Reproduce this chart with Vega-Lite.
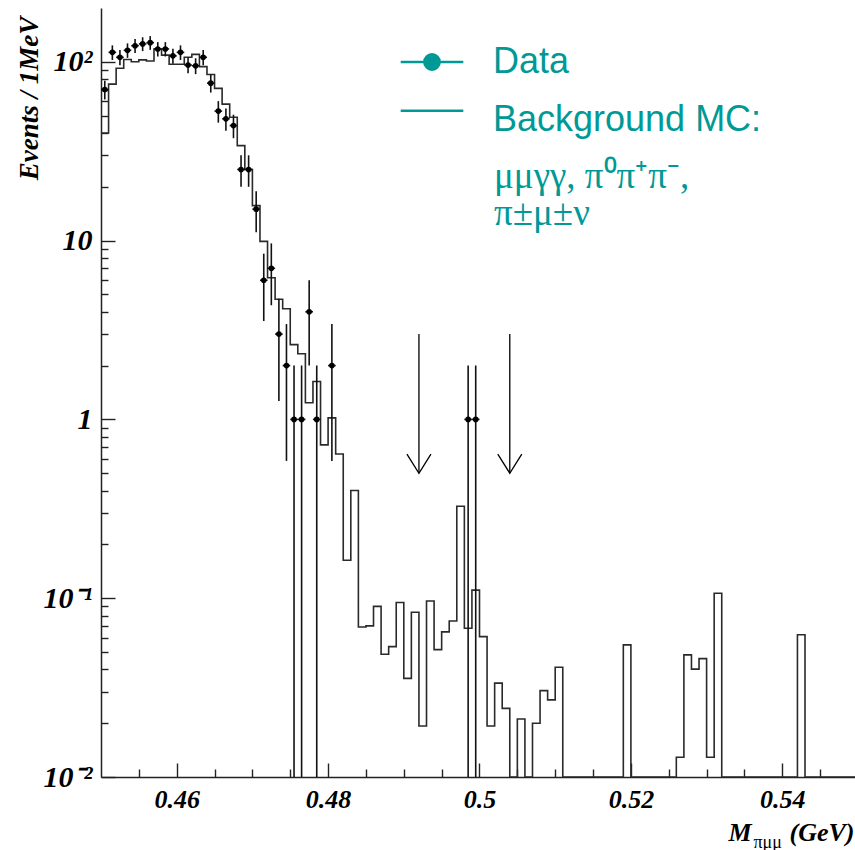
{
  "$schema": "https://vega.github.io/schema/vega-lite/v6.json",
  "width": 757,
  "height": 769,
  "autosize": {"type": "none"},
  "padding": {"left": 101, "top": 8, "right": 0, "bottom": 73},
  "background": "white",
  "config": {
    "view": {"stroke": null},
    "axis": {
      "grid": false,
      "domainColor": "#222222",
      "domainWidth": 1.5,
      "tickColor": "#222222",
      "tickWidth": 1.4,
      "labelFont": "Liberation Serif",
      "labelFontWeight": "bold",
      "labelFontStyle": "italic",
      "labelColor": "#000000",
      "titleFont": "Liberation Serif",
      "titleFontWeight": "bold",
      "titleFontStyle": "italic",
      "titleColor": "#000000"
    }
  },
  "datasets": {
    "mc": [
      {"mass": 0.450, "events": 40},
      {"mass": 0.451, "events": 75},
      {"mass": 0.452, "events": 92},
      {"mass": 0.453, "events": 103},
      {"mass": 0.454, "events": 100},
      {"mass": 0.455, "events": 102.5},
      {"mass": 0.456, "events": 101},
      {"mass": 0.457, "events": 118},
      {"mass": 0.458, "events": 109},
      {"mass": 0.459, "events": 97},
      {"mass": 0.460, "events": 97},
      {"mass": 0.461, "events": 106},
      {"mass": 0.462, "events": 110},
      {"mass": 0.463, "events": 94},
      {"mass": 0.464, "events": 85},
      {"mass": 0.465, "events": 71},
      {"mass": 0.466, "events": 58},
      {"mass": 0.467, "events": 49},
      {"mass": 0.468, "events": 34},
      {"mass": 0.469, "events": 25},
      {"mass": 0.470, "events": 15.7},
      {"mass": 0.471, "events": 9.9},
      {"mass": 0.472, "events": 6.2},
      {"mass": 0.473, "events": 4.7},
      {"mass": 0.474, "events": 4.16},
      {"mass": 0.475, "events": 2.62},
      {"mass": 0.476, "events": 2.33},
      {"mass": 0.477, "events": 1.24},
      {"mass": 0.478, "events": 1.63},
      {"mass": 0.479, "events": 0.72},
      {"mass": 0.480, "events": 1.02},
      {"mass": 0.481, "events": 0.64},
      {"mass": 0.482, "events": 0.163},
      {"mass": 0.483, "events": 0.40},
      {"mass": 0.484, "events": 0.069},
      {"mass": 0.485, "events": 0.070},
      {"mass": 0.486, "events": 0.090},
      {"mass": 0.487, "events": 0.0486},
      {"mass": 0.488, "events": 0.0536},
      {"mass": 0.489, "events": 0.0946},
      {"mass": 0.490, "events": 0.0356},
      {"mass": 0.491, "events": 0.0834},
      {"mass": 0.492, "events": 0.0193},
      {"mass": 0.493, "events": 0.0965},
      {"mass": 0.494, "events": 0.0516},
      {"mass": 0.495, "events": 0.0648},
      {"mass": 0.496, "events": 0.0746},
      {"mass": 0.497, "events": 0.327},
      {"mass": 0.498, "events": 0.0679},
      {"mass": 0.499, "events": 0.111},
      {"mass": 0.500, "events": 0.061},
      {"mass": 0.501, "events": 0.0193},
      {"mass": 0.502, "events": 0.0335},
      {"mass": 0.503, "events": 0.0242},
      {"mass": 0.504, "events": 0},
      {"mass": 0.505, "events": 0.0211},
      {"mass": 0.506, "events": 0},
      {"mass": 0.507, "events": 0.020},
      {"mass": 0.508, "events": 0.0304},
      {"mass": 0.509, "events": 0.027},
      {"mass": 0.510, "events": 0.0411},
      {"mass": 0.511, "events": 0},
      {"mass": 0.512, "events": 0},
      {"mass": 0.513, "events": 0},
      {"mass": 0.514, "events": 0},
      {"mass": 0.515, "events": 0},
      {"mass": 0.516, "events": 0},
      {"mass": 0.517, "events": 0},
      {"mass": 0.518, "events": 0},
      {"mass": 0.519, "events": 0.0548},
      {"mass": 0.520, "events": 0},
      {"mass": 0.521, "events": 0},
      {"mass": 0.522, "events": 0},
      {"mass": 0.523, "events": 0},
      {"mass": 0.524, "events": 0},
      {"mass": 0.525, "events": 0},
      {"mass": 0.526, "events": 0.0129},
      {"mass": 0.527, "events": 0.0482},
      {"mass": 0.528, "events": 0.0401},
      {"mass": 0.529, "events": 0.0459},
      {"mass": 0.530, "events": 0.0129},
      {"mass": 0.531, "events": 0.1065},
      {"mass": 0.532, "events": 0},
      {"mass": 0.533, "events": 0},
      {"mass": 0.534, "events": 0},
      {"mass": 0.535, "events": 0},
      {"mass": 0.536, "events": 0},
      {"mass": 0.537, "events": 0},
      {"mass": 0.538, "events": 0},
      {"mass": 0.539, "events": 0},
      {"mass": 0.540, "events": 0},
      {"mass": 0.541, "events": 0},
      {"mass": 0.542, "events": 0.0625},
      {"mass": 0.543, "events": 0},
      {"mass": 0.544, "events": 0},
      {"mass": 0.545, "events": 0},
      {"mass": 0.546, "events": 0},
      {"mass": 0.547, "events": 0},
      {"mass": 0.548, "events": 0},
      {"mass": 0.549, "events": 0},
      {"mass": 0.550, "events": 0}
    ],
    "pts": [
      {"bin_lo": 0.450, "bin_hi": 0.451, "mass": 0.4505, "events": 70, "err_lo": 61.6, "err_hi": 78.4},
      {"bin_lo": 0.451, "bin_hi": 0.452, "mass": 0.4515, "events": 113, "err_lo": 102.4, "err_hi": 123.6},
      {"bin_lo": 0.452, "bin_hi": 0.453, "mass": 0.4525, "events": 106, "err_lo": 95.7, "err_hi": 116.3},
      {"bin_lo": 0.453, "bin_hi": 0.454, "mass": 0.4535, "events": 116, "err_lo": 105.2, "err_hi": 126.8},
      {"bin_lo": 0.454, "bin_hi": 0.455, "mass": 0.4545, "events": 123, "err_lo": 111.9, "err_hi": 134.1},
      {"bin_lo": 0.455, "bin_hi": 0.456, "mass": 0.4555, "events": 126, "err_lo": 114.8, "err_hi": 137.2},
      {"bin_lo": 0.456, "bin_hi": 0.457, "mass": 0.4565, "events": 128, "err_lo": 116.7, "err_hi": 139.3},
      {"bin_lo": 0.457, "bin_hi": 0.458, "mass": 0.4575, "events": 118, "err_lo": 107.1, "err_hi": 128.9},
      {"bin_lo": 0.458, "bin_hi": 0.459, "mass": 0.4585, "events": 118, "err_lo": 107.1, "err_hi": 128.9},
      {"bin_lo": 0.459, "bin_hi": 0.460, "mass": 0.4595, "events": 108, "err_lo": 97.6, "err_hi": 118.4},
      {"bin_lo": 0.460, "bin_hi": 0.461, "mass": 0.4605, "events": 113, "err_lo": 102.4, "err_hi": 123.6},
      {"bin_lo": 0.461, "bin_hi": 0.462, "mass": 0.4615, "events": 96, "err_lo": 86.2, "err_hi": 105.8},
      {"bin_lo": 0.462, "bin_hi": 0.463, "mass": 0.4625, "events": 95, "err_lo": 85.3, "err_hi": 104.7},
      {"bin_lo": 0.463, "bin_hi": 0.464, "mass": 0.4635, "events": 106, "err_lo": 95.7, "err_hi": 116.3},
      {"bin_lo": 0.464, "bin_hi": 0.465, "mass": 0.4645, "events": 76, "err_lo": 67.3, "err_hi": 84.7},
      {"bin_lo": 0.465, "bin_hi": 0.466, "mass": 0.4655, "events": 53, "err_lo": 45.7, "err_hi": 60.3},
      {"bin_lo": 0.466, "bin_hi": 0.467, "mass": 0.4665, "events": 48, "err_lo": 41.1, "err_hi": 54.9},
      {"bin_lo": 0.467, "bin_hi": 0.468, "mass": 0.4675, "events": 44, "err_lo": 37.4, "err_hi": 50.6},
      {"bin_lo": 0.468, "bin_hi": 0.469, "mass": 0.4685, "events": 25, "err_lo": 20, "err_hi": 30},
      {"bin_lo": 0.469, "bin_hi": 0.470, "mass": 0.4695, "events": 25, "err_lo": 20, "err_hi": 30},
      {"bin_lo": 0.470, "bin_hi": 0.471, "mass": 0.4705, "events": 15, "err_lo": 11.13, "err_hi": 18.87},
      {"bin_lo": 0.471, "bin_hi": 0.472, "mass": 0.4715, "events": 6, "err_lo": 3.55, "err_hi": 8.45},
      {"bin_lo": 0.472, "bin_hi": 0.473, "mass": 0.4725, "events": 7, "err_lo": 4.35, "err_hi": 9.65},
      {"bin_lo": 0.473, "bin_hi": 0.474, "mass": 0.4735, "events": 3, "err_lo": 1.268, "err_hi": 4.732},
      {"bin_lo": 0.474, "bin_hi": 0.475, "mass": 0.4745, "events": 2, "err_lo": 0.586, "err_hi": 3.414},
      {"bin_lo": 0.475, "bin_hi": 0.476, "mass": 0.4755, "events": 1, "err_lo": 0, "err_hi": 2},
      {"bin_lo": 0.476, "bin_hi": 0.477, "mass": 0.4765, "events": 1, "err_lo": 0, "err_hi": 2},
      {"bin_lo": 0.477, "bin_hi": 0.478, "mass": 0.4775, "events": 4, "err_lo": 2, "err_hi": 6},
      {"bin_lo": 0.478, "bin_hi": 0.479, "mass": 0.4785, "events": 1, "err_lo": 0, "err_hi": 2},
      {"bin_lo": 0.480, "bin_hi": 0.481, "mass": 0.4805, "events": 2, "err_lo": 0.586, "err_hi": 3.414},
      {"bin_lo": 0.498, "bin_hi": 0.499, "mass": 0.4985, "events": 1, "err_lo": 0, "err_hi": 2},
      {"bin_lo": 0.499, "bin_hi": 0.500, "mass": 0.4995, "events": 1, "err_lo": 0, "err_hi": 2}
    ],
    "arrows": [
      {"mass": 0.492, "top": 3, "tip": 0.5},
      {"mass": 0.504, "top": 3, "tip": 0.5}
    ]
  },
  "layer": [
    {
      "data": {"name": "mc"},
      "mark": {"type": "line", "interpolate": "step-after", "color": "#2a2a2a", "strokeWidth": 1.6, "clip": true, "invalid": "show"},
      "encoding": {
        "x": {
          "field": "mass", "type": "quantitative",
          "scale": {"domain": [0.45, 0.55], "nice": false, "zero": false},
          "axis": {
            "orient": "bottom",
            "values": [0.46, 0.48, 0.5, 0.52, 0.54],
            "format": ".2~f",
            "tickSize": -14,
            "labelPadding": 23,
            "labelFontSize": 26,
            "title": "M",
            "titleFontSize": 26,
            "titleX": 627,
            "titleY": 63,
            "titleAlign": "left",
            "titleBaseline": "alphabetic"
          }
        },
        "y": {
          "field": "events", "type": "quantitative",
          "scale": {"type": "log", "domain": [0.01, 200], "nice": false, "clamp": true},
          "axis": {
            "orient": "left",
            "values": [0.01, 0.1, 1, 10, 100],
            "labelExpr": "datum.value >= 99 ? '10²' : datum.value >= 9 ? '10' : datum.value >= 0.9 ? '1' : datum.value >= 0.09 ? '10⁻¹' : '10⁻²'",
            "tickSize": -14,
            "labelPadding": 23,
            "labelFontSize": 30,
            "title": "Events / 1MeV",
            "titleFontSize": 27,
            "titleX": -64,
            "titleY": 90,
            "titleAngle": -90,
            "titleAlign": "center",
            "titleBaseline": "alphabetic"
          }
        }
      }
    },
    {
      "data": {"name": "pts"},
      "mark": {"type": "rule", "color": "#111111", "strokeWidth": 1.6},
      "encoding": {
        "x": {
          "field": "bin_lo", "type": "quantitative",
          "scale": {"domain": [0.45, 0.55], "nice": false, "zero": false},
          "axis": {
            "orient": "bottom",
            "values": [0.455, 0.465, 0.47, 0.475, 0.485, 0.49, 0.495, 0.505, 0.51, 0.515, 0.525, 0.53, 0.535, 0.545],
            "tickSize": -8, "labels": false, "domain": false, "title": null
          }
        },
        "x2": {"field": "bin_hi"},
        "y": {
          "field": "events", "type": "quantitative",
          "scale": {"type": "log", "domain": [0.01, 200], "nice": false, "clamp": true},
          "axis": {
            "orient": "left",
            "values": [0.02, 0.03, 0.04, 0.05, 0.06, 0.07, 0.08, 0.09, 0.2, 0.3, 0.4, 0.5, 0.6, 0.7, 0.8, 0.9, 2, 3, 4, 5, 6, 7, 8, 9, 20, 30, 40, 50, 60, 70, 80, 90],
            "tickSize": -7, "labels": false, "domain": false, "title": null
          }
        }
      }
    },
    {
      "data": {"name": "pts"},
      "mark": {"type": "rule", "color": "#111111", "strokeWidth": 1.6, "invalid": "show"},
      "encoding": {
        "x": {
          "field": "mass", "type": "quantitative",
          "scale": {"domain": [0.45, 0.55], "nice": false, "zero": false},
          "axis": {
            "orient": "bottom",
            "title": "πμμ", "labels": false, "ticks": false, "domain": false,
            "titleFontSize": 18, "titleFontWeight": "normal", "titleFontStyle": "normal",
            "titleX": 652, "titleY": 70, "titleAlign": "left", "titleBaseline": "alphabetic"
          }
        },
        "y": {
          "field": "err_lo", "type": "quantitative",
          "scale": {"type": "log", "domain": [0.01, 200], "nice": false, "clamp": true},
          "axis": null
        },
        "y2": {"field": "err_hi"}
      }
    },
    {
      "data": {"name": "pts"},
      "mark": {"type": "point", "shape": "circle", "filled": true, "color": "#000000", "size": 32, "opacity": 1},
      "encoding": {
        "x": {
          "field": "mass", "type": "quantitative",
          "scale": {"domain": [0.45, 0.55], "nice": false, "zero": false},
          "axis": {
            "orient": "bottom",
            "title": "(GeV)", "labels": false, "ticks": false, "domain": false,
            "titleFontSize": 26,
            "titleX": 688, "titleY": 63, "titleAlign": "left", "titleBaseline": "alphabetic"
          }
        },
        "y": {
          "field": "events", "type": "quantitative",
          "scale": {"type": "log", "domain": [0.01, 200], "nice": false, "clamp": true},
          "axis": null
        }
      }
    },
    {
      "data": {"name": "arrows"},
      "mark": {"type": "rule", "color": "#000000", "strokeWidth": 1.3},
      "encoding": {
        "x": {"field": "mass", "type": "quantitative", "scale": {"domain": [0.45, 0.55], "nice": false, "zero": false}, "axis": null},
        "y": {"field": "top", "type": "quantitative", "scale": {"type": "log", "domain": [0.01, 200], "nice": false, "clamp": true}, "axis": null},
        "y2": {"field": "tip"},
        "opacity": {
          "datum": "bg",
          "type": "ordinal",
          "scale": {"domain": ["bg"], "range": [1]},
          "legend": {
            "orient": "none",
            "legendX": 393,
            "legendY": 151,
            "title": ["μμγγ, π⁰π⁺π⁻,", "π±μ±ν"],
            "titleFont": "Liberation Serif",
            "titleFontSize": 37,
            "titleFontWeight": "normal",
            "titleFontStyle": "normal",
            "titleColor": "#009996",
            "titleLineHeight": 37,
            "titleLimit": 0,
            "titleBaseline": "top",
            "titlePadding": 0,
            "labelExpr": "''",
            "labelFontSize": 1,
            "symbolSize": 0,
            "symbolOpacity": 0
          }
        }
      }
    },
    {
      "data": {"name": "arrows"},
      "mark": {"type": "point", "filled": false, "color": "#000000", "strokeWidth": 1.3, "size": 576, "opacity": 1},
      "encoding": {
        "x": {"field": "mass", "type": "quantitative", "scale": {"domain": [0.45, 0.55], "nice": false, "zero": false}, "axis": null},
        "y": {"field": "tip", "type": "quantitative", "scale": {"type": "log", "domain": [0.01, 200], "nice": false, "clamp": true}, "axis": null},
        "shape": {
          "datum": "arrow",
          "type": "nominal",
          "scale": {
            "domain": ["Data", "Background MC:", "arrow"],
            "range": [
              "M-2,0H2M0.49,0A0.49,0.49 0 1,1 -0.49,0A0.49,0.49 0 1,1 0.49,0M0.4,0A0.4,0.4 0 1,1 -0.4,0A0.4,0.4 0 1,1 0.4,0M0.31,0A0.31,0.31 0 1,1 -0.31,0A0.31,0.31 0 1,1 0.31,0M0.22,0A0.22,0.22 0 1,1 -0.22,0A0.22,0.22 0 1,1 0.22,0M0.13,0A0.13,0.13 0 1,1 -0.13,0A0.13,0.13 0 1,1 0.13,0M0.05,0A0.05,0.05 0 1,1 -0.05,0A0.05,0.05 0 1,1 0.05,0",
              "M-2,-0.565H2",
              "M-1,-1.6L0,0L1,-1.6"
            ]
          },
          "legend": {
            "values": ["Data", "Background MC:"],
            "orient": "none",
            "legendX": 313,
            "legendY": 36,
            "direction": "vertical",
            "title": null,
            "labelFont": "Liberation Sans",
            "labelFontSize": 36,
            "labelColor": "#009996",
            "labelOffset": 43,
            "labelLimit": 0,
            "rowPadding": 21.5,
            "symbolSize": 980,
            "symbolStrokeWidth": 2.5,
            "symbolStrokeColor": "#009996",
            "symbolFillColor": "#009996",
            "symbolOpacity": 1
          }
        }
      }
    }
  ],
  "resolve": {"axis": {"x": "independent", "y": "independent"}}
}
